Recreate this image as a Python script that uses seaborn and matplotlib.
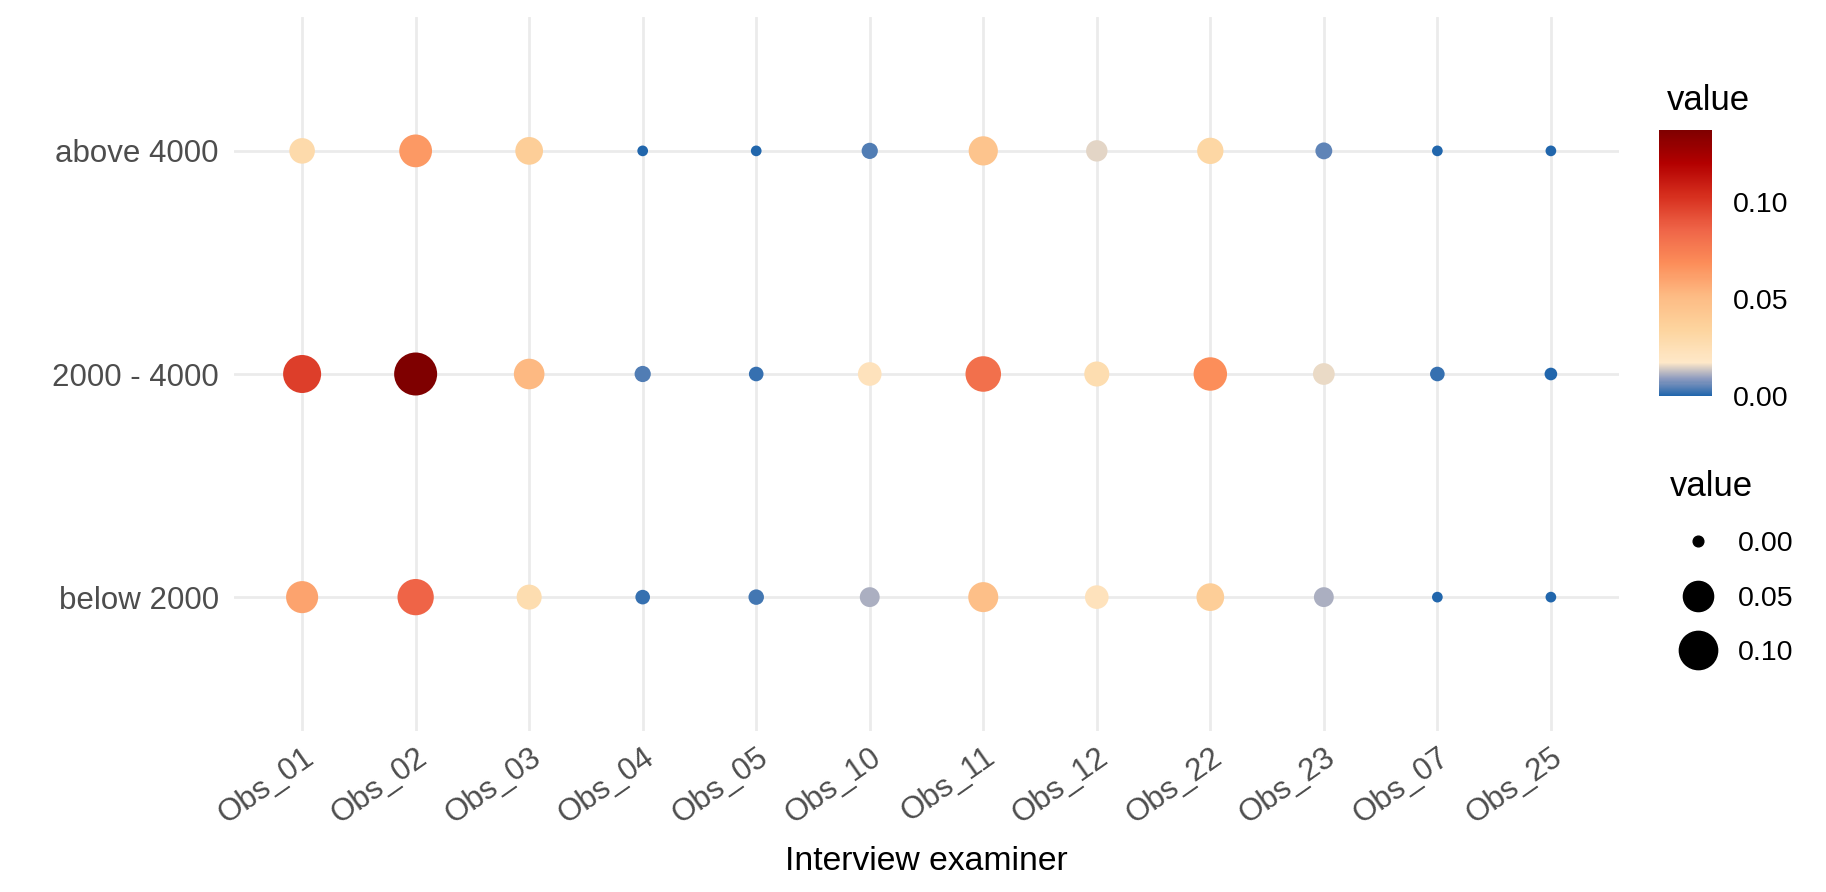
import numpy as np
import pandas as pd
import seaborn as sns
import matplotlib.pyplot as plt
from matplotlib.colors import LinearSegmentedColormap, Normalize, FuncNorm
from matplotlib.cm import ScalarMappable
from matplotlib.lines import Line2D

examiners = ["Obs_01", "Obs_02", "Obs_03", "Obs_04", "Obs_05", "Obs_10",
             "Obs_11", "Obs_12", "Obs_22", "Obs_23", "Obs_07", "Obs_25"]
income_groups = ["below 2000", "2000 - 4000", "above 4000"]

below_2000 = [0.060, 0.086, 0.027, 0.002, 0.003, 0.011,
              0.049, 0.022, 0.038, 0.011, 0.0, 0.0]
from_2000_to_4000 = [0.098, 0.137, 0.052, 0.004, 0.002, 0.022,
                     0.081, 0.027, 0.068, 0.016, 0.002, 0.0005]
above_4000 = [0.029, 0.064, 0.038, 0.0, 0.0, 0.004,
              0.045, 0.015, 0.032, 0.005, 0.0, 0.0]

legend_values = [0.0, 0.05, 0.10]

df = pd.DataFrame({
    "examiner": examiners * 3,
    "income": np.repeat(income_groups, len(examiners)),
    "value": below_2000 + from_2000_to_4000 + above_4000,
})
vmax = df["value"].max()

# blue for the (near) zeros, then OrRd upwards
cmap = LinearSegmentedColormap.from_list("blue_orrd", [
    (0.0, "#2166AC"), (0.0625, "#8E9BBF"), (0.125, "#FEE8C8"),
    (0.25, "#FDD49E"), (0.375, "#FDBB84"), (0.5, "#FC8D59"),
    (0.625, "#EF6548"), (0.75, "#D7301F"), (0.875, "#B30000"),
    (1.0, "#7F0000"),
])
color_norm = Normalize(0, vmax)

# ggplot-like size scale: diameter grows with sqrt(value)
d_min, d_max = 10.7 * 0.72, 43 * 0.72


def area(v):
    v = np.clip(np.asarray(v, dtype=float), 0, None)
    return (d_min + (d_max - d_min) * np.sqrt(v / vmax)) ** 2


def area_inv(a):
    return vmax * ((np.sqrt(a) - d_min) / (d_max - d_min)) ** 2


size_norm = FuncNorm((area, area_inv), vmin=0, vmax=vmax)

sns.set_theme(style="white")
plt.rcParams["font.family"] = ["Liberation Sans", "DejaVu Sans"]
plt.rcParams["text.color"] = "black"
plt.rcParams["axes.labelcolor"] = "black"

W, H = 1826, 892
fig = plt.figure(figsize=(W / 100, H / 100), dpi=100)
ax = fig.add_axes([234 / W, 1 - 731 / H, (1619 - 234) / W, (731 - 17) / H])

sns.scatterplot(data=df, x="examiner", y="income", hue="value", size="value",
                palette=cmap, hue_norm=color_norm,
                sizes=(d_min ** 2, d_max ** 2), size_norm=size_norm,
                linewidth=0, legend=False, ax=ax, zorder=3)

ax.set_xlim(-0.6, len(examiners) - 0.4)
ax.set_ylim(-0.6, len(income_groups) - 0.4)
ax.grid(True, color="#EBEBEB", linewidth=2)
ax.set_axisbelow(True)
for s in ax.spines.values():
    s.set_visible(False)
ax.tick_params(length=0, labelsize=22.5, labelcolor="#4D4D4D")
ax.tick_params(axis="y", pad=11)
ax.tick_params(axis="x", pad=8)
plt.setp(ax.get_xticklabels(), rotation=35, ha="right", va="top",
         rotation_mode="anchor")
ax.set_xlabel("Interview examiner", fontsize=24.3, labelpad=12)
ax.set_ylabel("")

# colour bar
cax = fig.add_axes([1659 / W, 1 - 396 / H, 53 / W, (396 - 130) / H])
cb = fig.colorbar(ScalarMappable(norm=color_norm, cmap=cmap), cax=cax,
                  ticks=legend_values)
cb.outline.set_visible(False)
cb.ax.set_yticklabels([f"{v:.2f}" for v in legend_values])
cb.ax.yaxis.set_ticks_position("both")
cb.ax.tick_params(direction="in", color="white", length=7.5, width=1.2,
                  labelsize=20.5, labelcolor="black", pad=15,
                  labelleft=False, labelright=True)
fig.text(1667 / W, 1 - 101 / H, "value", fontsize=25, va="center", ha="left")

# size legend
handles = [Line2D([], [], ls="", marker="o", color="black",
                  markersize=float(np.sqrt(area(v)))) for v in legend_values]
fig.legend(handles, [f"{v:.2f}" for v in legend_values], title="value",
           loc="upper left", bbox_to_anchor=(1650 / W, 1 - 450 / H),
           frameon=False, fontsize=20.5, title_fontsize=25,
           alignment="left", labelspacing=1.0, handletextpad=0.4,
           borderpad=0.2)

fig.savefig("out.png", dpi=100)
